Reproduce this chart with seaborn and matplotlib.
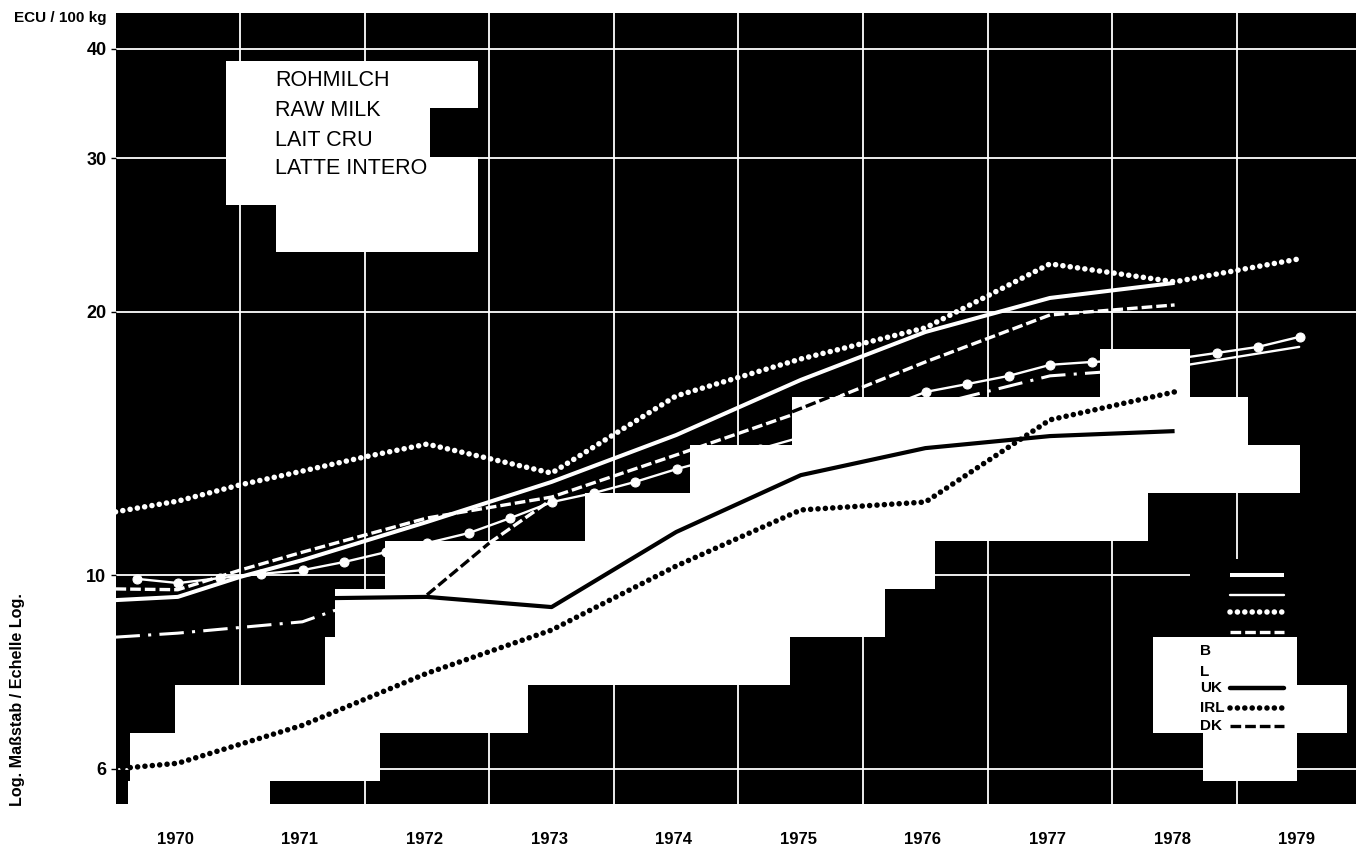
"""Raw milk prices, log scale, from a scanned reversed-out chart."""
import matplotlib
matplotlib.use("Agg")
import matplotlib.pyplot as plt
import seaborn as sns

# Data, ECU / 100 kg
THICK_YEARS = [1969.5, 1970, 1970.5, 1971, 1972, 1973, 1974, 1975, 1976, 1977, 1978]
THICK_VALUES = [9.36, 9.44, 9.95, 10.40, 11.50, 12.78, 14.46, 16.72, 18.97, 20.75, 21.59]

MARKER_YEARS = [1969.67 + k / 3 for k in range(29)]
MARKER_VALUES = [9.90, 9.79, 9.92, 10.03, 10.13, 10.35, 10.62, 10.88, 11.17, 11.62,
                 12.12, 12.41, 12.78, 13.22, 13.61, 13.94, 14.38, 14.85, 15.53, 16.20,
                 16.54, 16.90, 17.40, 17.53, 17.60, 17.67, 17.95, 18.24, 18.73]

DOTTED_YEARS = [1969.5, 1970, 1970.5, 1971, 1971.5, 1972, 1973, 1974, 1975, 1976, 1977, 1978, 1979]
DOTTED_VALUES = [11.81, 12.15, 12.68, 13.15, 13.65, 14.12, 13.08, 16.03, 17.67, 19.18, 22.70, 21.65, 23.0]

DASHED_YEARS = [1969.5, 1970, 1970.5, 1971, 1972, 1973, 1974, 1975, 1976, 1977, 1978]
DASHED_VALUES = [9.64, 9.62, 10.13, 10.62, 11.62, 12.28, 13.72, 15.37, 17.53, 19.84, 20.37]
DASHED_BLACK_YEARS = [1974.93, 1975.31]
DASHED_BLACK_VALUES = [15.37, 16.15]

L_YEARS = [1969.5, 1970, 1971, 1971.25, 1972, 1973, 1974, 1975, 1976, 1977, 1978]
L_VALUES = [8.49, 8.58, 8.84, 9.10, 9.60, 10.40, 11.87, 13.72, 15.57, 16.90, 17.30]
L_LATE_YEARS = [1978, 1979]
L_LATE_VALUES = [17.30, 18.24]

UK_YEARS = [1971.25, 1972, 1973, 1974, 1975, 1976, 1977, 1978]
UK_VALUES = [9.41, 9.44, 9.19, 11.20, 13.01, 13.97, 14.42, 14.61]

IRL_YEARS = [1969.5, 1970, 1971, 1972, 1973, 1974, 1975, 1976, 1977, 1978]
IRL_VALUES = [6.0, 6.09, 6.73, 7.72, 8.65, 10.24, 11.87, 12.12, 15.05, 16.20]

DK_BLACK_YEARS = [1972, 1972.5]
DK_BLACK_VALUES = [9.49, 10.88]
DK_WHITE_YEARS = [1972.5, 1973]
DK_WHITE_VALUES = [10.88, 12.2]

YEARS = list(range(1970, 1980))
Y_TICKS = [6, 10, 20, 30, 40]
TITLE_LINES = ["ROHMILCH", "RAW MILK", "LAIT CRU", "LATTE INTERO"]

# White retouching over the black ground: top, bottom, left, right in pixels
MASK_ROWS = [
    (61, 108, 226, 478), (108, 157, 226, 430), (157, 205, 226, 478), (205, 252, 276, 478),
    (349, 397, 1100, 1190), (397, 445, 792, 1248), (445, 493, 690, 1300), (493, 541, 585, 1148),
    (541, 589, 385, 935), (589, 637, 335, 885), (637, 685, 325, 790), (685, 733, 175, 528),
    (733, 781, 130, 380), (781, 805, 128, 270),
    (637, 685, 1153, 1297), (685, 733, 1153, 1347), (733, 781, 1203, 1297),
]

DOTS = dict(linestyle=(0, (0.01, 1.32)), dash_capstyle="round", linewidth=4.0)
DASHES = dict(linestyle=(0, (3.2, 1.2)), linewidth=2.4)
THICK = dict(linewidth=2.9, solid_capstyle="butt")
THIN = dict(linewidth=1.7)

sns.set_theme(style="white")
plt.rcParams["font.family"] = ["Liberation Sans", "DejaVu Sans"]

fig = plt.figure(figsize=(13.6, 8.49), dpi=100)
ax = fig.add_axes([115.5 / 1360, 1 - 804 / 849, (1356 - 115.5) / 1360, (804 - 13) / 849])
ax.set_facecolor("black")
ax.set_yscale("log")


def fx(px):
    return px / 1360


def fy(py):
    return 1 - py / 849


def series(years, values, color, zorder, **style):
    sns.lineplot(x=years, y=values, color=color, zorder=zorder, estimator=None, ax=ax, **style)


series(THICK_YEARS, THICK_VALUES, "white", 2, **THICK)
series(MARKER_YEARS, MARKER_VALUES, "white", 2, marker="o", markersize=6.5, **THIN)
series(DOTTED_YEARS, DOTTED_VALUES, "white", 2, **DOTS)
series(DASHED_YEARS, DASHED_VALUES, "white", 2, **DASHES)
series(L_YEARS, L_VALUES, "white", 2, linestyle=(0, (8, 2.7, 1, 2.7)), linewidth=2.2)
series(L_LATE_YEARS, L_LATE_VALUES, "white", 2, **THIN)
series(DK_WHITE_YEARS, DK_WHITE_VALUES, "white", 2, **DASHES)

for top, bottom, left, right in MASK_ROWS:
    ax.fill([fx(left), fx(right), fx(right), fx(left)],
            [fy(top), fy(top), fy(bottom), fy(bottom)],
            color="white", lw=0, zorder=3, transform=fig.transFigure)

# legend area has no grid behind the white samples
ax.fill([fx(1190), fx(1356), fx(1356), fx(1190)], [fy(559), fy(559), fy(637), fy(637)],
        color="black", lw=0, zorder=1.5, transform=fig.transFigure)

series(UK_YEARS, UK_VALUES, "black", 4, linewidth=3.0, solid_capstyle="butt")
series(IRL_YEARS, IRL_VALUES, "black", 4, **DOTS)
series(DK_BLACK_YEARS, DK_BLACK_VALUES, "black", 4, **DASHES)
series(DASHED_BLACK_YEARS, DASHED_BLACK_VALUES, "black", 4, **DASHES)

legend_rows = [
    (575, "white", THICK), (595, "white", THIN), (612, "white", DOTS), (632, "white", DASHES),
    (688, "black", dict(linewidth=3.2, solid_capstyle="round")), (708, "black", DOTS), (726, "black", DASHES),
]
for py, color, style in legend_rows:
    ax.plot([fx(1230), fx(1284)], [fy(py), fy(py)], color=color, zorder=5,
            transform=fig.transFigure, clip_on=False, **style)

for label, py in [("B", 651), ("L", 672), ("UK", 688), ("IRL", 708), ("DK", 726)]:
    fig.text(fx(1200), fy(py), label, fontsize=11, fontweight="bold", va="center", ha="left", color="black", zorder=6)

for i, line in enumerate(TITLE_LINES):
    fig.text(fx(275), fy([81, 111, 140, 169][i]), line, fontsize=15.5, va="center", ha="left", color="black", zorder=6)

fig.text(fx(107), fy(18), "ECU / 100 kg", fontsize=11, fontweight="bold", ha="right", va="center", color="black")
fig.text(fx(18), fy(700), "Log. Maßstab / Echelle Log.", fontsize=11.6, fontweight="bold",
         rotation=90, ha="center", va="center", color="black")

ax.set_xlim(1969.5, 1979.456)
ax.set_ylim(5.47, 43.96)

ax.set_yticks(Y_TICKS)
ax.set_yticklabels([str(v) for v in Y_TICKS], fontsize=13, fontweight="bold", color="black")
ax.minorticks_off()
ax.set_xticks([y - 0.02 for y in YEARS])
ax.set_xticklabels([str(y) for y in YEARS], fontsize=12, fontweight="bold", color="black")
ax.set_xticks([y + 0.5 for y in YEARS[:-1]], minor=True)
ax.tick_params(axis="x", which="both", length=0, pad=20)
ax.tick_params(axis="y", which="major", length=3.5, width=1, color="black", left=True, pad=3)
ax.grid(True, axis="y", which="major", color="white", linewidth=1.3)
ax.grid(True, axis="x", which="minor", color="white", linewidth=1.3)
ax.grid(False, axis="x", which="major")
ax.set_axisbelow(True)
sns.despine(ax=ax, left=True, bottom=True)

fig.savefig("out.png", dpi=100)
plt.close(fig)
